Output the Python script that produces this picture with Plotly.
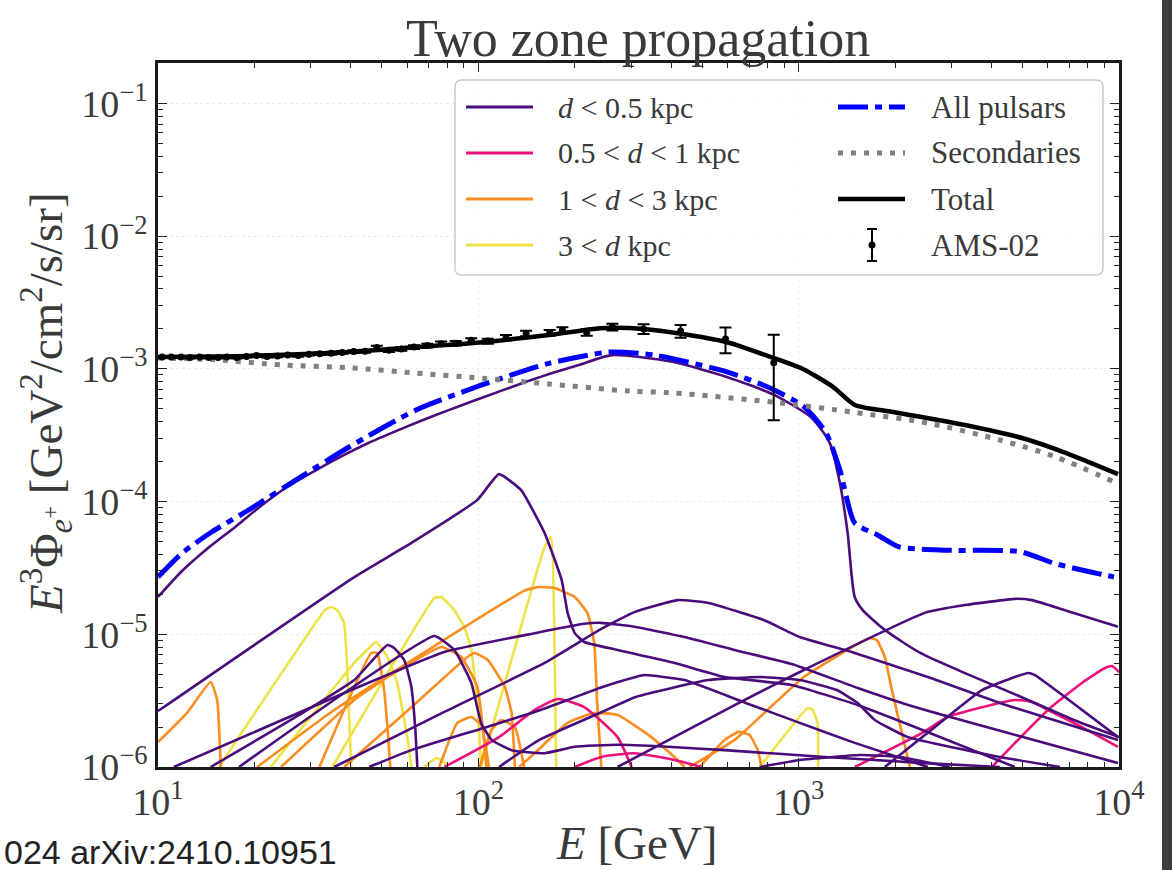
import plotly.graph_objects as go

# ---------------- data ----------------
# Total model
total_E = [10, 19.2, 39.5, 63.9, 103, 166, 239, 262, 328, 425, 591, 841, 1038, 1277, 1496, 1954, 3304, 5012, 6880, 9930]
total_F = [1.23e-3, 1.25e-3, 1.34e-3, 1.46e-3, 1.59e-3, 1.80e-3, 2.02e-3, 2.04e-3, 2.0e-3, 1.85e-3, 1.60e-3, 1.20e-3,
           9.9e-4, 7.35e-4, 5.35e-4, 4.75e-4, 3.78e-4, 3.0e-4, 2.31e-4, 1.61e-4]
# Secondaries
sec_E = [10, 15.2, 24.4, 39.5, 63.9, 103, 166, 297, 403, 841, 1496, 2536, 4276, 6350, 9640]
sec_F = [1.21e-3, 1.17e-3, 1.07e-3, 1.02e-3, 9.3e-4, 8.5e-4, 7.7e-4, 6.8e-4, 6.6e-4, 5.6e-4, 4.7e-4, 3.9e-4, 2.9e-4, 2.17e-4, 1.41e-4]
# All pulsars
allpsr_E = [10, 11.9, 14.7, 19.2, 27.6, 39.5, 63.9, 103, 166, 256, 355, 597, 811, 1037, 1218, 1345, 1496, 1764, 2059, 2900, 4900, 6350, 9640]
allpsr_F = [2.7e-5, 4.1e-5, 5.9e-5, 8.65e-5, 1.51e-4, 2.58e-4, 4.9e-4, 7.6e-4, 1.1e-3, 1.34e-3, 1.27e-3, 9.5e-4, 7.2e-4,
            5.2e-4, 3.3e-4, 1.73e-4, 6.9e-5, 5.6e-5, 4.55e-5, 4.3e-5, 4.2e-5, 3.4e-5, 2.7e-5]

# AMS-02 positron data
ams_E = [10.3, 11.0, 11.8, 12.6, 13.5, 14.4, 15.4, 16.4, 17.6, 18.9, 20.3, 21.9, 23.6, 25.4, 27.4, 29.6, 32.0, 34.7, 37.6, 40.8,
         44.3, 48.2, 52.6, 57.5, 63.0, 69.3, 76.5, 85.0, 95.0, 107, 122, 141, 167, 183, 218, 262, 328, 428, 591, 836]
ams_F = [1.23e-3, 1.23e-3, 1.23e-3, 1.22e-3, 1.23e-3, 1.22e-3, 1.22e-3, 1.23e-3, 1.22e-3, 1.24e-3, 1.26e-3, 1.24e-3, 1.25e-3,
         1.27e-3, 1.26e-3, 1.29e-3, 1.30e-3, 1.31e-3, 1.33e-3, 1.35e-3, 1.36e-3, 1.45e-3, 1.38e-3, 1.41e-3, 1.46e-3, 1.50e-3,
         1.55e-3, 1.56e-3, 1.64e-3, 1.62e-3, 1.72e-3, 1.85e-3, 1.87e-3, 1.96e-3, 1.88e-3, 2.07e-3, 2.0e-3, 1.93e-3, 1.68e-3, 1.11e-3]
ams_err = [2.0e-5, 2.0e-5, 2.0e-5, 2.0e-5, 2.0e-5, 2.0e-5, 2.0e-5, 2.1e-5, 2.1e-5, 2.2e-5, 2.3e-5, 2.3e-5, 2.4e-5,
           2.5e-5, 2.5e-5, 2.7e-5, 2.8e-5, 3.0e-5, 3.2e-5, 3.4e-5, 3.6e-5, 4.5e-5, 4.0e-5, 4.3e-5, 4.6e-5, 5.0e-5,
           5.5e-5, 6.0e-5, 6.5e-5, 7.0e-5, 8.0e-5, 9.0e-5, 9.5e-5, 1.0e-4, 1.05e-4, 1.2e-4, 1.7e-4, 2.1e-4, 3.7e-4, 7.0e-4]

# Individual pulsars, d < 0.5 kpc
near1_E = [10, 11.8, 14.3, 17.5, 21.0, 25.4, 30.8, 37.5, 45.2, 54.6, 66.0, 80.0, 96.7, 117, 141, 170, 206, 261,
           403, 597, 841, 1099, 1250, 1345, 1422, 1496, 1585, 1857, 2405, 3304, 4910, 7230, 10000]
near1_F = [1.91e-5, 2.95e-5, 4.45e-5, 6.5e-5, 9.3e-5, 1.3e-4, 1.7e-4, 2.2e-4, 2.75e-4, 3.35e-4, 4.05e-4, 4.85e-4,
           5.75e-4, 6.8e-4, 8.0e-4, 9.3e-4, 1.07e-3, 1.27e-3,
           1.13e-3, 8.7e-4, 6.35e-4, 4.27e-4, 2.77e-4, 1.38e-4, 5.8e-5, 1.91e-5, 1.52e-5, 1.08e-5, 7.2e-6, 5.1e-6,
           3.4e-6, 2.26e-6, 1.68e-6]
near2_E = [10, 41.0, 61.8, 99.3, 116, 136, 161, 182, 190, 200, 214, 272, 410, 587, 951, 1528, 2305, 4731]
near2_F = [2.64e-6, 2.70e-5, 4.88e-5, 1.03e-4, 1.61e-4, 1.22e-4, 5.80e-5, 2.57e-5, 1.45e-5, 1.02e-5, 8.75e-6, 7.62e-6,
           6.08e-6, 4.77e-6, 4.15e-6, 2.93e-6, 2.00e-6, 1.0e-6]
near3_E = [35.5, 78.3, 161, 239, 307, 419, 523, 778, 1008, 1496, 2531, 4246, 9930]
near3_F = [1.0e-6, 2.60e-6, 6.08e-6, 1.08e-5, 1.47e-5, 1.81e-5, 1.72e-5, 1.28e-5, 9.54e-6, 7.23e-6, 4.77e-6, 3.04e-6, 1.60e-6]
near4_E = [11.2, 40.1, 78.3, 150, 214, 242, 307, 440, 631, 951, 1528, 2305, 9930]
near4_F = [1.0e-6, 3.80e-6, 7.36e-6, 1.02e-5, 1.20e-5, 1.22e-5, 1.14e-5, 9.54e-6, 7.62e-6, 5.97e-6, 3.94e-6, 2.83e-6, 1.07e-6]
near5_E = [17.9, 38.1, 72.9, 84.1, 95.1, 102, 110, 127, 161, 200, 272, 390, 587, 1205, 2477, 4246]
near5_F = [1.0e-6, 3.61e-6, 9.71e-6, 7.62e-6, 4.30e-6, 2.15e-6, 1.60e-6, 1.34e-6, 1.27e-6, 1.42e-6, 1.47e-6, 1.42e-6,
           1.34e-6, 1.19e-6, 1.07e-6, 1.0e-6]
near6_E = [14.6, 27.6, 41.0, 52.0, 54.6, 58.7, 61.8, 63.6, 64.5]
near6_F = [1.0e-6, 2.47e-6, 4.52e-6, 8.31e-6, 7.88e-6, 6.40e-6, 4.01e-6, 1.90e-6, 1.0e-6]
near7_E = [272, 631, 1008, 2477, 3304, 4731, 5346, 6779, 9930]
near7_F = [1.0e-6, 2.93e-6, 5.20e-6, 1.45e-5, 1.66e-5, 1.85e-5, 1.81e-5, 1.52e-5, 1.14e-5]
near8_E = [1857, 2477, 3733, 4731, 5200, 5465, 6779, 9930]
near8_F = [1.0e-6, 1.74e-6, 3.80e-6, 4.77e-6, 5.11e-6, 4.93e-6, 3.37e-6, 1.68e-6]
near9_E = [45.6, 61.8, 104, 150, 190, 239, 310, 330, 440, 683, 1008, 1496, 2531]
near9_F = [1.0e-6, 1.34e-6, 1.97e-6, 2.60e-6, 3.20e-6, 3.94e-6, 4.77e-6, 4.93e-6, 4.52e-6, 3.04e-6, 2.15e-6, 1.52e-6, 1.0e-6]
near10_E = [116, 155, 239, 310, 523, 756, 1008, 1315, 1528, 1728, 2193, 4246, 6543]
near10_F = [1.0e-6, 1.60e-6, 2.55e-6, 3.37e-6, 4.52e-6, 4.77e-6, 4.52e-6, 3.80e-6, 3.04e-6, 2.26e-6, 1.68e-6, 1.19e-6, 1.0e-6]
near11_E = [756, 1008, 1552, 2070, 2965]
near11_F = [1.0e-6, 1.13e-6, 1.23e-6, 1.19e-6, 1.0e-6]

# 0.5 < d < 1 kpc
mid1_E = [78.3, 116, 150, 177, 214, 272, 301]
mid1_F = [1.0e-6, 1.68e-6, 2.69e-6, 3.25e-6, 2.83e-6, 1.68e-6, 1.0e-6]
mid2_E = [200, 242, 307, 410, 497]
mid2_F = [1.0e-6, 1.19e-6, 1.27e-6, 1.13e-6, 1.0e-6]
mid3_E = [1496, 2422, 2922, 4731, 5346, 5999, 7660, 9930]
mid3_F = [1.0e-6, 1.80e-6, 2.38e-6, 3.20e-6, 3.09e-6, 2.69e-6, 2.00e-6, 1.42e-6]
mid4_E = [4010, 5999, 7660, 9038, 9508, 10000]
mid4_F = [1.0e-6, 2.69e-6, 4.30e-6, 5.57e-6, 5.77e-6, 5.20e-6]

# 1 < d < 3 kpc
far1_E = [10, 12.3, 14.6, 15.3, 15.7]
far1_F = [1.54e-6, 2.55e-6, 4.37e-6, 3.20e-6, 1.0e-6]
far2_E = [20.4, 35.5, 141, 155, 173, 200, 219, 230, 235, 242]
far2_F = [1.0e-6, 2.69e-6, 2.16e-5, 2.27e-5, 2.23e-5, 1.91e-5, 1.45e-5, 8.60e-6, 3.04e-6, 1.0e-6]
far3_E = [24.2, 41.0, 54.6, 76.6, 88.5, 99.3, 104, 106]
far3_F = [1.0e-6, 3.20e-6, 5.11e-6, 8.02e-6, 6.75e-6, 4.01e-6, 1.68e-6, 1.0e-6]
far4_E = [38.1, 65.5, 92.4, 97.2, 107, 121, 127, 130]
far4_F = [1.0e-6, 3.20e-6, 6.75e-6, 7.23e-6, 6.40e-6, 4.01e-6, 2.55e-6, 1.0e-6]
far5_E = [31.9, 46.3, 48.3, 50.8, 52.4, 53.1]
far5_F = [1.0e-6, 7.23e-6, 7.23e-6, 3.80e-6, 1.60e-6, 1.0e-6]
far6_E = [75.5, 86.0, 95.1, 102, 108]
far6_F = [1.0e-6, 2.15e-6, 2.38e-6, 2.07e-6, 1.0e-6]
far7_E = [101, 110, 118, 130, 139]
far7_F = [1.0e-6, 1.90e-6, 2.26e-6, 2.00e-6, 1.0e-6]
far8_E = [134, 150, 190, 230, 272, 347, 419, 440]
far8_F = [1.0e-6, 1.27e-6, 2.15e-6, 2.55e-6, 2.47e-6, 1.68e-6, 1.13e-6, 1.0e-6]
far9_E = [491, 587, 649, 703, 745, 766]
far9_F = [1.0e-6, 1.60e-6, 1.84e-6, 1.74e-6, 1.34e-6, 1.0e-6]
far10_E = [456, 631, 1038, 1667, 1754, 1857, 1954, 2224]
far10_F = [1.0e-6, 1.60e-6, 4.77e-6, 9.38e-6, 9.06e-6, 6.75e-6, 3.80e-6, 1.0e-6]

# 3 < d kpc
dist1_E = [15.5, 33.2, 34.7, 36.3, 38.1, 39.0, 40.1]
dist1_F = [1.0e-6, 1.52e-5, 1.61e-5, 1.52e-5, 1.22e-5, 5.38e-6, 1.0e-6]
dist2_E = [35.0, 72.9, 76.6, 84.1, 90.4, 95.1, 99.3, 102]
dist2_F = [1.0e-6, 1.88e-5, 1.91e-5, 1.52e-5, 1.14e-5, 7.62e-6, 3.04e-6, 1.0e-6]
dist3_E = [22.5, 41.0, 48.0, 52.0, 55.8, 60.0, 61.8]
dist3_F = [1.0e-6, 6.08e-6, 8.75e-6, 6.75e-6, 4.30e-6, 1.68e-6, 1.0e-6]
dist4_E = [102, 161, 169, 173, 175]
dist4_F = [1.0e-6, 4.55e-5, 5.41e-5, 7.62e-6, 1.0e-6]
dist5_E = [756, 1067, 1107, 1146, 1150]
dist5_F = [1.0e-6, 2.78e-6, 2.69e-6, 2.15e-6, 1.0e-6]
dist6_E = [67.8, 73.9, 78.3, 80.0]
dist6_F = [1.0e-6, 1.17e-6, 1.09e-6, 1.0e-6]

x_tickvals = [10, 100, 1000, 10000]
x_ticktext = ["10<sup>1</sup>", "10<sup>2</sup>", "10<sup>3</sup>", "10<sup>4</sup>"]
y_tickvals = [1e-6, 1e-5, 1e-4, 1e-3, 1e-2, 1e-1]
y_ticktext = ["10<sup>\u22126</sup>", "10<sup>\u22125</sup>", "10<sup>\u22124</sup>",
              "10<sup>\u22123</sup>", "10<sup>\u22122</sup>", "10<sup>\u22121</sup>"]

# ---------------- styling ----------------
C_NEAR = "#4a0c7a"
C_MID = "#ec1178"
C_FAR = "#fb8c1f"
C_DIST = "#efe244"
SERIF = "Liberation Serif, Times New Roman, serif"
TXT = "#3a3a3a"

W, H = 1172, 870
L, R, T, B = 158, 1119, 63, 767


def X(p):
    return (p - L) / (R - L)


def Y(p):
    return (B - p) / (B - T)


fig = go.Figure()


def add_line(E, F, color, width=2.6, smooth=0.5):
    fig.add_trace(go.Scatter(x=E, y=F, mode="lines",
                             line=dict(color=color, width=width, shape="spline", smoothing=smooth),
                             showlegend=False, hoverinfo="skip"))


near = [(near1_E, near1_F), (near2_E, near2_F), (near3_E, near3_F), (near4_E, near4_F), (near5_E, near5_F),
        (near6_E, near6_F), (near7_E, near7_F), (near8_E, near8_F), (near9_E, near9_F), (near10_E, near10_F),
        (near11_E, near11_F)]
mid = [(mid1_E, mid1_F), (mid2_E, mid2_F), (mid3_E, mid3_F), (mid4_E, mid4_F)]
far = [(far1_E, far1_F), (far2_E, far2_F), (far3_E, far3_F), (far4_E, far4_F), (far5_E, far5_F),
       (far6_E, far6_F), (far7_E, far7_F), (far8_E, far8_F), (far9_E, far9_F), (far10_E, far10_F)]
dist = [(dist1_E, dist1_F), (dist2_E, dist2_F), (dist3_E, dist3_F), (dist4_E, dist4_F), (dist5_E, dist5_F),
        (dist6_E, dist6_F)]

for e, f in dist:
    add_line(e, f, C_DIST, smooth=0.3)
for e, f in far:
    add_line(e, f, C_FAR, smooth=0.4)
for e, f in mid:
    add_line(e, f, C_MID, smooth=0.5)
for i, (e, f) in enumerate(near):
    add_line(e, f, C_NEAR, smooth=(0.6 if i == 0 else 0.4))

DASHDOT = "30px,7px,7px,7px"
DOTTED = "5px,8px"

fig.add_trace(go.Scatter(x=allpsr_E, y=allpsr_F, mode="lines",
                         line=dict(color="#0000ff", width=5, dash=DASHDOT, shape="spline", smoothing=0.6),
                         showlegend=False, hoverinfo="skip"))
fig.add_trace(go.Scatter(x=sec_E, y=sec_F, mode="lines",
                         line=dict(color="#808080", width=5, dash=DOTTED, shape="spline", smoothing=0.8),
                         showlegend=False, hoverinfo="skip"))
fig.add_trace(go.Scatter(x=total_E, y=total_F, mode="lines",
                         line=dict(color="#000000", width=4.5, shape="spline", smoothing=0.6),
                         showlegend=False, hoverinfo="skip"))
fig.add_trace(go.Scatter(x=ams_E, y=ams_F, mode="markers",
                         marker=dict(color="#000000", size=7),
                         error_y=dict(type="data", array=ams_err, visible=True, color="#000000",
                                      thickness=2, width=6),
                         showlegend=False, hoverinfo="skip"))

minor_x = [m * 10 ** k for k in range(1, 4) for m in range(2, 10)]
minor_y = [m * 10.0 ** k for k in range(-6, 0) for m in range(2, 10)]

axis_common = dict(
    type="log", ticks="inside", ticklen=9, tickwidth=1.4, tickcolor="#222",
    mirror="allticks", showline=True, linewidth=2.6, linecolor="#1a1a1a",
    showgrid=True, gridcolor="#ebebeb", gridwidth=1, griddash="dot", zeroline=False,
    tickfont=dict(family=SERIF, size=38, color=TXT),
)

fig.update_xaxes(range=[1, 4], tickmode="array", tickvals=x_tickvals, ticktext=x_ticktext,
                 minor=dict(tickmode="array", tickvals=minor_x, ticks="inside", ticklen=5, tickcolor="#222",
                            showgrid=False), **axis_common)
fig.update_yaxes(range=[-6, -0.695], tickmode="array", tickvals=y_tickvals, ticktext=y_ticktext,
                 minor=dict(tickmode="array", tickvals=minor_y, ticks="inside", ticklen=5, tickcolor="#222",
                            showgrid=False), **axis_common)

annotations = [
    dict(text="Two zone propagation", x=X(638), y=Y(38), font=dict(family=SERIF, size=52, color=TXT)),
    dict(text="<i>E</i> [GeV]", x=X(637), y=Y(843), font=dict(family=SERIF, size=47, color=TXT)),
    dict(text="<i>E</i><sup>3</sup>\u03a6<sub><i>e</i><sup>+</sup></sub> [GeV<sup>2</sup>/cm<sup>2</sup>/s/sr]",
         x=X(46), y=Y(403), textangle=-90, font=dict(family=SERIF, size=47, color=TXT)),
    dict(text="024 arXiv:2410.10951", x=X(2), y=Y(852), xanchor="left",
         font=dict(family="Liberation Sans, Arial, sans-serif", size=34, color="#222")),
]

# ---------------- manual legend ----------------
bx0, bx1, by0, by1, rr = 455, 1103, 80, 275, 7
box_path = (f"M {X(bx0 + rr)},{Y(by0)} L {X(bx1 - rr)},{Y(by0)} Q {X(bx1)},{Y(by0)} {X(bx1)},{Y(by0 + rr)} "
            f"L {X(bx1)},{Y(by1 - rr)} Q {X(bx1)},{Y(by1)} {X(bx1 - rr)},{Y(by1)} "
            f"L {X(bx0 + rr)},{Y(by1)} Q {X(bx0)},{Y(by1)} {X(bx0)},{Y(by1 - rr)} "
            f"L {X(bx0)},{Y(by0 + rr)} Q {X(bx0)},{Y(by0)} {X(bx0 + rr)},{Y(by0)} Z")
shapes = [
    dict(type="path", path=box_path, xref="paper", yref="paper",
         fillcolor="rgba(255,255,255,0.85)", line=dict(color="#cccccc", width=1.5), layer="above"),
    dict(type="rect", xref="paper", yref="paper", x0=X(1162), x1=X(1180), y0=Y(-10), y1=Y(880),
         fillcolor="#3b3b41", line=dict(width=0), layer="above"),
]

rows = [107, 153, 199, 245]
col1 = [("<i>d</i> &lt; 0.5 kpc", C_NEAR), ("0.5 &lt; <i>d</i> &lt; 1 kpc", C_MID),
        ("1 &lt; <i>d</i> &lt; 3 kpc", C_FAR), ("3 &lt; <i>d</i> kpc", C_DIST)]
for (label, col), yy in zip(col1, rows):
    shapes.append(dict(type="line", xref="paper", yref="paper", x0=X(466), x1=X(533), y0=Y(yy), y1=Y(yy),
                       line=dict(color=col, width=3), layer="above"))
    annotations.append(dict(text=label, x=X(556), y=Y(yy), xanchor="left",
                            font=dict(family=SERIF, size=30, color=TXT)))

col2 = [("All pulsars", dict(color="#0000ff", width=5, dash=DASHDOT)),
        ("Secondaries", dict(color="#808080", width=5, dash=DOTTED)),
        ("Total", dict(color="#000000", width=4.5))]
for (label, ln), yy in zip(col2, rows[:3]):
    shapes.append(dict(type="line", xref="paper", yref="paper", x0=X(838), x1=X(905), y0=Y(yy), y1=Y(yy),
                       line=ln, layer="above"))
    annotations.append(dict(text=label, x=X(929), y=Y(yy), xanchor="left",
                            font=dict(family=SERIF, size=31, color=TXT)))
# AMS-02 legend symbol
ay = rows[3]
shapes += [
    dict(type="line", xref="paper", yref="paper", x0=X(872), x1=X(872), y0=Y(ay - 16), y1=Y(ay + 16),
         line=dict(color="#000", width=2), layer="above"),
    dict(type="line", xref="paper", yref="paper", x0=X(867), x1=X(877), y0=Y(ay - 16), y1=Y(ay - 16),
         line=dict(color="#000", width=2), layer="above"),
    dict(type="line", xref="paper", yref="paper", x0=X(867), x1=X(877), y0=Y(ay + 16), y1=Y(ay + 16),
         line=dict(color="#000", width=2), layer="above"),
    dict(type="circle", xref="paper", yref="paper", x0=X(868.5), x1=X(875.5), y0=Y(ay - 3.5), y1=Y(ay + 3.5),
         fillcolor="#000", line=dict(color="#000", width=0), layer="above"),
]
annotations.append(dict(text="AMS-02", x=X(929), y=Y(ay), xanchor="left",
                        font=dict(family=SERIF, size=31, color=TXT)))

for a in annotations:
    a.setdefault("xref", "paper")
    a.setdefault("yref", "paper")
    a.setdefault("showarrow", False)
    a.setdefault("xanchor", "center")
    a.setdefault("yanchor", "middle")

fig.update_layout(
    width=W, height=H,
    margin=dict(l=L, r=W - R, t=T, b=H - B, pad=0),
    paper_bgcolor="white", plot_bgcolor="white",
    showlegend=False,
    annotations=annotations, shapes=shapes,
)

fig.write_html("out.html")
